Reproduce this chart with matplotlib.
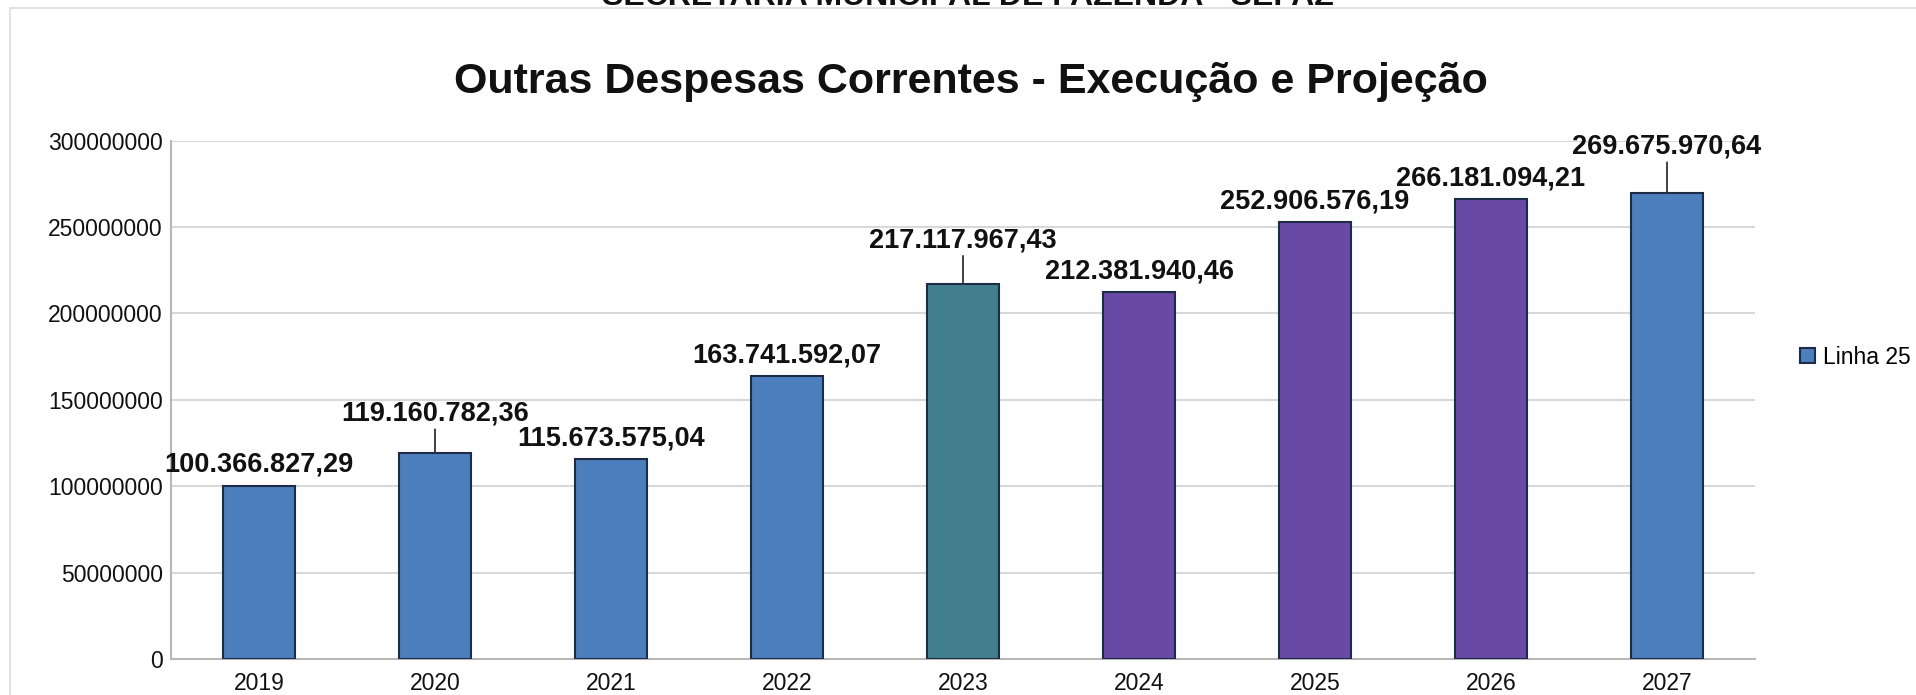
import matplotlib
matplotlib.use("Agg")
import matplotlib.pyplot as plt
from matplotlib.patches import Patch, Rectangle

plt.rcParams['font.family'] = ['Liberation Sans', 'DejaVu Sans']

###--- DATA ---###
years = ['2019', '2020', '2021', '2022', '2023', '2024', '2025', '2026', '2027']
values = [100366827.29, 119160782.36, 115673575.04, 163741592.07, 217117967.43,
          212381940.46, 252906576.19, 266181094.21, 269675970.64]
y_ticks = [0, 50000000, 100000000, 150000000, 200000000, 250000000, 300000000]
series_name = 'Linha 25'
chart_title = 'Outras Despesas Correntes - Execução e Projeção'
header = 'SECRETARIA MUNICIPAL DE FAZENDA - SEFAZ'

###--- STYLE ---###
blue = '#4d7ebd'
teal = '#417f8d'
purple = '#6849a5'
edge = '#1e2b45'
bar_colors = [blue, blue, blue, blue, teal, purple, purple, purple, blue]
# labels pushed up (with a leader line), offset in points
raised = {1: 23.5, 4: 26.5, 8: 28.5}
normal_gap = 10


def br_format(v):
    s = '{:,.2f}'.format(v)
    return s.replace(',', 'X').replace('.', ',').replace('X', '.')


W, H = 1916, 695
fig = plt.figure(figsize=(W / 100, H / 100), dpi=100)
fig.patch.set_facecolor('white')

# light panel frame
fig.patches.append(Rectangle((10 / W, -0.05), 1.2, 1 - 8 / H + 0.05,
                             transform=fig.transFigure, fill=False,
                             edgecolor='#e2e2e2', lw=1.5))

# cut-off page header
fig.text(968 / W, 1 - 5 / H, header, ha='center', va='baseline',
         fontsize=23, fontweight='bold', color='#111111')

ax = fig.add_axes([171 / W, 36 / H, (1755 - 171) / W, (659 - 140.7) / H])

x = list(range(len(years)))
ax.bar(x, values, width=0.41, color=bar_colors, edgecolor=edge, linewidth=1.5, zorder=3)

ax.set_xlim(-0.5, len(years) - 0.5)
ax.set_ylim(0, 300000000)
ax.set_yticks(y_ticks)
ax.set_yticklabels([str(t) for t in y_ticks])
ax.set_xticks(x)
ax.set_xticklabels(years)
ax.tick_params(axis='both', length=0, labelsize=16.5, colors='#111111')
ax.tick_params(axis='y', pad=6)
ax.tick_params(axis='x', pad=9)

ax.grid(axis='y', color='#d8d8d8', lw=1.5, zorder=0)
for s in ['top', 'right']:
    ax.spines[s].set_visible(False)
ax.spines['left'].set_color('#b8b8b8')
ax.spines['bottom'].set_color('#b8b8b8')
ax.spines['left'].set_linewidth(1.5)
ax.spines['bottom'].set_linewidth(1.5)

for i, v in enumerate(values):
    if i in raised:
        ax.annotate(br_format(v), xy=(i, v), xytext=(0, raised[i]),
                    textcoords='offset points', ha='center', va='baseline',
                    fontsize=19.5, fontweight='bold', color='#111111',
                    arrowprops=dict(arrowstyle='-', color='#333333', lw=1.3,
                                    shrinkA=0, shrinkB=0), zorder=4)
    else:
        ax.annotate(br_format(v), xy=(i, v), xytext=(0, normal_gap),
                    textcoords='offset points', ha='center', va='baseline',
                    fontsize=19.5, fontweight='bold', color='#111111', zorder=4)

fig.text(971 / W, 1 - 93 / H, chart_title, ha='center', va='baseline',
         fontsize=31, fontweight='bold', color='#111111')

handle = Patch(facecolor=blue, edgecolor=edge, linewidth=1.5)
fig.legend([handle], [series_name], loc='center left',
           bbox_to_anchor=(1800 / W, 1 - 357 / H), frameon=False,
           fontsize=16.5, handlelength=0.65, handleheight=0.65,
           handletextpad=0.35, borderpad=0, borderaxespad=0)

fig.savefig('out.png', dpi=100)
